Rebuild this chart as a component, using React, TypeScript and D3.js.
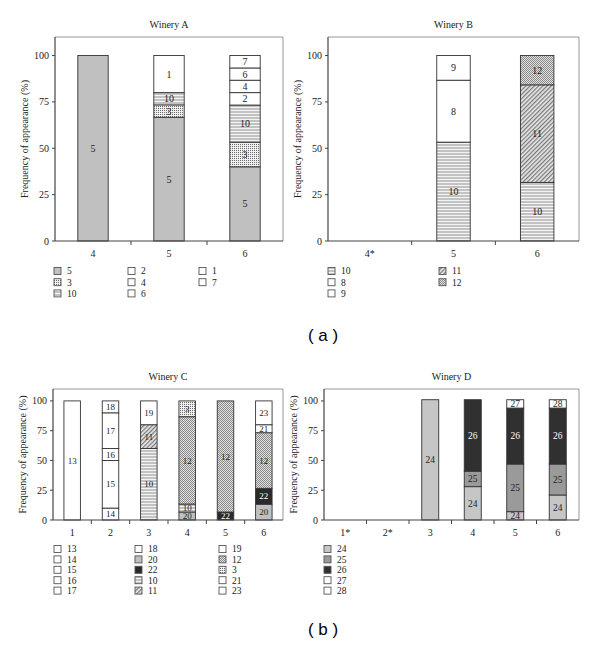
import React from 'react'
import * as d3 from 'd3'

// ---- data ----
const yTicks = [0, 25, 50, 75, 100]
const yLabel = 'Frequency of appearance (%)'

const catsA = ['4', '5', '6']
const stacksA: [string, number][][] = [
  [['5', 100]],
  [['5', 66.7], ['3', 6.7], ['10', 6.6], ['1', 20]],
  [['5', 40], ['3', 13.3], ['10', 20], ['2', 6.7], ['4', 6.7], ['6', 6.6], ['7', 6.7]],
]
const legendA = [['5', '3', '10'], ['2', '4', '6'], ['1', '7']]

const catsB = ['4*', '5', '6']
const stacksB: [string, number][][] = [
  [],
  [['10', 53.3], ['8', 33.4], ['9', 13.3]],
  [['10', 31.6], ['11', 52.6], ['12', 15.8]],
]
const legendB = [['10', '8', '9'], ['11', '12']]

const catsC = ['1', '2', '3', '4', '5', '6']
const stacksC: [string, number][][] = [
  [['13', 100]],
  [['14', 10], ['15', 40], ['16', 10], ['17', 30], ['18', 10]],
  [['10', 60], ['11', 20], ['19', 20]],
  [['20', 6.7], ['10', 6.7], ['12', 73.3], ['3', 13.3]],
  [['22', 6.7], ['12', 93.3]],
  [['20', 13.3], ['22', 13.3], ['12', 46.7], ['21', 6.7], ['23', 20]],
]
const legendC = [['13', '14', '15', '16', '17'], ['18', '20', '22', '10', '11'], ['19', '12', '3', '21', '23']]

const catsD = ['1*', '2*', '3', '4', '5', '6']
const stacksD: [string, number][][] = [
  [],
  [],
  [['24', 101]],
  [['24', 28], ['25', 13], ['26', 60]],
  [['24', 7], ['25', 40], ['26', 47], ['27', 7]],
  [['24', 21], ['25', 26], ['26', 47], ['28', 7]],
]
const legendD = [['24', '25', '26', '27', '28']]

// fills by compound id (white if not listed)
const fills: Record<string, string> = {
  '5': '#c0c0c0',
  '3': 'url(#pDots)',
  '10': 'url(#pHLines)',
  '11': 'url(#pDiag)',
  '12': 'url(#pCross)',
  '20': '#c0c0c0',
  '22': '#2a2a2a',
  '24': '#c6c6c6',
  '25': '#9a9a9a',
  '26': '#303030',
}
const darkIds = ['22', '26']

const FONT = '"Liberation Serif", "DejaVu Serif", serif'

type PanelProps = {
  title: string
  cats: string[]
  stacks: [string, number][][]
  legend: string[][]
  left: number
  right: number
  top: number
  bottom: number
  barFrac: number
  segFont: number
  legendX: number[]
  legendY: number
  legendStep: number
}

function Panel(p: PanelProps) {
  const x = d3.scaleBand().domain(p.cats).range([p.left, p.right]).padding(0)
  const y = d3.scaleLinear().domain([0, 110]).range([p.bottom, p.top])
  const bw = x.bandwidth() * p.barFrac
  const mid = (p.left + p.right) / 2

  return (
    <g fontFamily={FONT} fill="#222">
      <text x={mid} y={p.top - 9} fontSize={10} textAnchor="middle">{p.title}</text>
      <text
        transform={`translate(${p.left - 27},${(p.top + p.bottom) / 2}) rotate(-90)`}
        fontSize={10}
        textAnchor="middle"
      >{yLabel}</text>

      {/* frame */}
      <line x1={p.left} x2={p.right} y1={p.top} y2={p.top} stroke="#999" />
      <line x1={p.right} x2={p.right} y1={p.top} y2={p.bottom} stroke="#999" />

      {/* bars */}
      {p.stacks.map((segs, i) => {
        const cx = x(p.cats[i])! + x.bandwidth() / 2
        let acc = 0
        return (
          <g key={i}>
            {segs.map(([id, v]) => {
              const y0 = acc
              acc += v
              const yTop = y(acc)
              const h = y(y0) - yTop
              return (
                <g key={id}>
                  <rect x={cx - bw / 2} y={yTop} width={bw} height={h}
                    fill={fills[id] || '#fff'} stroke="#333" strokeWidth={0.9} />
                  <text x={cx} y={yTop + h / 2} dy="0.35em" fontSize={p.segFont} textAnchor="middle"
                    fill={darkIds.includes(id) ? '#fff' : '#222'}>{id}</text>
                </g>
              )
            })}
          </g>
        )
      })}

      {/* axes */}
      <line x1={p.left} x2={p.left} y1={p.top} y2={p.bottom} stroke="#444" strokeWidth={1.2} />
      <line x1={p.left} x2={p.right} y1={p.bottom} y2={p.bottom} stroke="#444" strokeWidth={1.2} />
      {yTicks.map(t => (
        <g key={t}>
          <line x1={p.left - 3} x2={p.left} y1={y(t)} y2={y(t)} stroke="#444" />
          <text x={p.left - 6} y={y(t)} dy="0.35em" fontSize={10} textAnchor="end">{t}</text>
        </g>
      ))}
      {p.cats.map((c, i) => (
        <g key={c}>
          {i > 0 && <line x1={x(c)!} x2={x(c)!} y1={p.bottom} y2={p.bottom + 4} stroke="#444" />}
          <text x={x(c)! + x.bandwidth() / 2} y={p.bottom + 12} dy="0.35em" fontSize={10} textAnchor="middle">{c}</text>
        </g>
      ))}

      {/* legend */}
      {p.legend.map((col, ci) => col.map((id, ri) => {
        const ly = p.legendY + ri * p.legendStep
        return (
          <g key={id + ci}>
            <rect x={p.legendX[ci]} y={ly - 3.5} width={7} height={7}
              fill={fills[id] || '#fff'} stroke="#555" strokeWidth={0.9} />
            <text x={p.legendX[ci] + 13} y={ly} dy="0.35em" fontSize={9.5}>{id}</text>
          </g>
        )
      }))}
    </g>
  )
}

export default function App() {
  return (
    <svg width={600} height={646} style={{ position: 'absolute', left: 0, top: 0, background: '#fff' }}>
      <defs>
        <pattern id="pDots" width={2} height={2} patternUnits="userSpaceOnUse">
          <rect width={2} height={2} fill="#f0f0f0" />
          <rect width={1} height={1} fill="#6a6a6a" />
        </pattern>
        <pattern id="pHLines" width={4} height={3} patternUnits="userSpaceOnUse">
          <rect width={4} height={3} fill="#c2c2c2" />
          <rect y={2} width={4} height={1} fill="#f4f4f4" />
        </pattern>
        <pattern id="pDiag" width={3} height={3} patternUnits="userSpaceOnUse" patternTransform="rotate(45)">
          <rect width={3} height={3} fill="#e6e6e6" />
          <rect width={1.2} height={3} fill="#777" />
        </pattern>
        <pattern id="pCross" width={2} height={2} patternUnits="userSpaceOnUse">
          <rect width={2} height={2} fill="#e2e2e2" />
          <rect width={1} height={1} fill="#888" />
          <rect x={1} y={1} width={1} height={1} fill="#888" />
        </pattern>
      </defs>

      <Panel title="Winery A" cats={catsA} stacks={stacksA} legend={legendA}
        left={55} right={283} top={37} bottom={241} barFrac={0.4} segFont={10}
        legendX={[54, 128, 199]} legendY={271} legendStep={11.2} />
      <Panel title="Winery B" cats={catsB} stacks={stacksB} legend={legendB}
        left={328} right={579} top={37} bottom={241} barFrac={0.4} segFont={10}
        legendX={[328, 439]} legendY={271} legendStep={11.2} />
      <Panel title="Winery C" cats={catsC} stacks={stacksC} legend={legendC}
        left={53} right={283} top={389} bottom={520} barFrac={0.43} segFont={9}
        legendX={[54, 135, 219]} legendY={549} legendStep={10.4} />
      <Panel title="Winery D" cats={catsD} stacks={stacksD} legend={legendD}
        left={324} right={579} top={389} bottom={520} barFrac={0.4} segFont={9.5}
        legendX={[324]} legendY={549} legendStep={10.4} />

      <text x={323} y={341} fontSize={17} textAnchor="middle" fontFamily='"Liberation Sans", Arial, sans-serif'>( a )</text>
      <text x={323} y={635} fontSize={17} textAnchor="middle" fontFamily='"Liberation Sans", Arial, sans-serif'>( b )</text>
    </svg>
  )
}
